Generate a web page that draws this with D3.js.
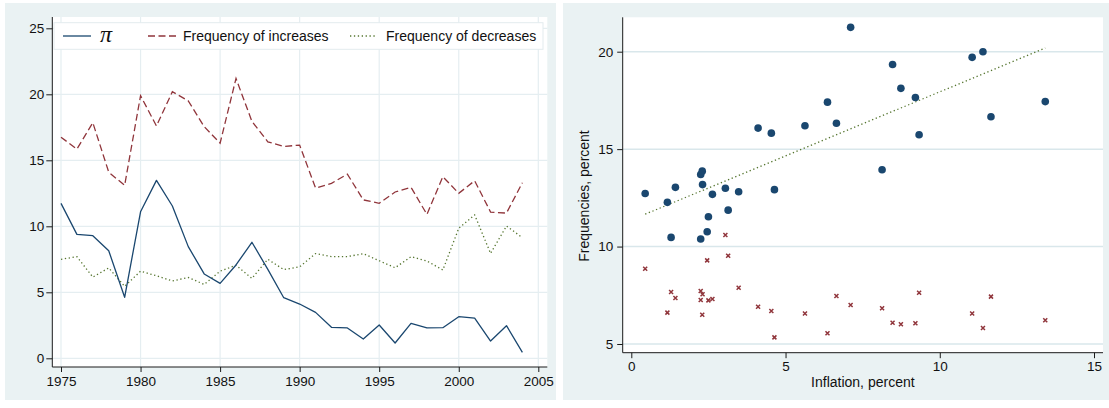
<!DOCTYPE html>
<html>
<head>
<meta charset="utf-8">
<script src="https://cdn.jsdelivr.net/npm/d3@7"></script>
<style>
  body { margin: 0; background: #ffffff; }
  svg { display: block; }
  text { font-family: "Liberation Sans", Arial, Helvetica, sans-serif; }
</style>
</head>
<body>
<svg id="chart" width="1109" height="408"></svg>
<script>
// ---- Annual series (left panel) ----
const years = [1975, 1976, 1977, 1978, 1979, 1980, 1981, 1982, 1983, 1984,
               1985, 1986, 1987, 1988, 1989, 1990, 1991, 1992, 1993, 1994,
               1995, 1996, 1997, 1998, 1999, 2000, 2001, 2002, 2003, 2004];
const inflationPi = [11.74, 9.39, 9.29, 8.15, 4.62, 11.1, 13.48, 11.54, 8.46, 6.39,
                     5.68, 7.07, 8.79, 6.74, 4.59, 4.11, 3.48, 2.35, 2.3, 1.46,
                     2.52, 1.16, 2.65, 2.3, 2.32, 3.15, 3.05, 1.31, 2.47, 0.45];
const freqIncreases = [16.75, 15.85, 17.85, 14.1, 13.1, 19.9, 17.6, 20.2, 19.5, 17.55,
                       16.3, 21.2, 17.95, 16.4, 16.05, 16.15, 12.9, 13.25, 13.95, 12.0,
                       11.74, 12.6, 12.95, 10.9, 13.76, 12.5, 13.45, 11.08, 11.0, 13.3];
const freqDecreases = [7.5, 7.7, 6.15, 6.85, 5.45, 6.6, 6.25, 5.86, 6.12, 5.6,
                       6.6, 7.05, 6.05, 7.5, 6.72, 6.93, 7.93, 7.7, 7.7, 7.93,
                       7.39, 6.86, 7.7, 7.37, 6.69, 9.85, 10.86, 7.95, 10.02, 9.14];
const yearTicks = [1975, 1980, 1985, 1990, 1995, 2000, 2005];
const leftValueTicks = [0, 5, 10, 15, 20, 25];

// ---- Scatter (right panel) ----
const scatterInflation = [11.66, 9.33, 9.21, 8.13, 4.64, 11.05, 13.42, 11.40, 8.47, 6.36,
                          5.63, 7.11, 8.74, 6.65, 4.54, 4.11, 3.48, 2.31, 2.25, 1.43,
                          2.5, 1.17, 2.63, 2.25, 2.30, 3.14, 3.05, 1.29, 2.46, 0.45];
const scatterIncreases = [16.66, 15.74, 17.65, 13.94, 12.92, 19.71, 17.44, 20.0, 19.34, 17.41,
                          16.2, 21.25, 18.12, 16.33, 15.82, 16.08, 12.81, 13.18, 13.7, 13.04,
                          11.53, 12.27, 12.68, 10.39, 13.87, 11.87, 12.99, 10.47, 10.76, 12.72];
const scatterDecreases = [7.43, 7.63, 6.06, 6.83, 5.34, 6.57, 6.22, 5.82, 6.09, 5.55,
                          6.57, 7.0, 6.01, 7.46, 6.69, 6.91, 7.89, 7.55, 7.72, 7.36,
                          7.24, 6.61, 7.31, 7.26, 6.5, 9.53, 10.59, 7.67, 9.29, 8.86];
const fitInflation = [0.45, 13.42];
const fitFrequency = [11.66, 20.19];
const inflationTicks = [0, 5, 10, 15];
const rightValueTicks = [5, 10, 15, 20];

// ---- Colours ----
const outerFill = "#eaf2f3";
const navy = "#1a476f";
const maroon = "#90353b";
const green = "#55752f";
const axisColor = "#1a1a1a";

const svg = d3.select("#chart");

function styleAxis(g) {
  g.select(".domain").remove();
  g.selectAll(".tick line").attr("stroke", axisColor).attr("stroke-width", 1);
  g.selectAll(".tick text").attr("fill", "#111").style("font-size", "13.5px");
}

// ================= Left panel: time series =================
const L = { x0: 52.3, x1: 547.3, y0: 17, y1: 367 };
svg.append("rect").attr("x", 5).attr("y", 3).attr("width", 551).attr("height", 397).attr("fill", outerFill);
svg.append("rect").attr("x", L.x0).attr("y", L.y0).attr("width", L.x1 - L.x0).attr("height", L.y1 - L.y0).attr("fill", "#fff");

const xL = d3.scaleLinear().domain([1975, 2005]).range([61, 538.3]);
const yL = d3.scaleLinear().domain([0, 25]).range([358.3, 28.3]);

const gridL = svg.append("g").attr("stroke", "#e5eef1").attr("stroke-width", 1.2);
gridL.selectAll("line.v").data(yearTicks).join("line")
  .attr("x1", d => xL(d)).attr("x2", d => xL(d)).attr("y1", L.y0).attr("y2", L.y1);
gridL.selectAll("line.h").data(leftValueTicks).join("line")
  .attr("x1", L.x0).attr("x2", L.x1).attr("y1", d => yL(d)).attr("y2", d => yL(d));

const lineGen = (vals) => d3.line().x((d, i) => xL(years[i])).y(d => yL(d))(vals);

svg.append("path").attr("d", lineGen(freqDecreases)).attr("fill", "none")
  .attr("stroke", green).attr("stroke-width", 1.3).attr("stroke-dasharray", "1.3,2.6");
svg.append("path").attr("d", lineGen(freqIncreases)).attr("fill", "none")
  .attr("stroke", maroon).attr("stroke-width", 1.3).attr("stroke-dasharray", "7,3.5");
svg.append("path").attr("d", lineGen(inflationPi)).attr("fill", "none")
  .attr("stroke", navy).attr("stroke-width", 1.3).attr("stroke-linejoin", "round");

svg.append("g").attr("transform", `translate(${L.x0},0)`)
  .call(d3.axisLeft(yL).tickValues(leftValueTicks).tickSize(6).tickPadding(2))
  .call(styleAxis);
svg.append("g").attr("transform", `translate(0,${L.y1})`)
  .call(d3.axisBottom(xL).tickValues(yearTicks).tickFormat(d3.format("d")).tickSize(5).tickPadding(4.5))
  .call(styleAxis);
svg.append("line").attr("x1", L.x0).attr("x2", L.x0).attr("y1", L.y0).attr("y2", L.y1).attr("stroke", axisColor);
svg.append("line").attr("x1", L.x0).attr("x2", L.x1).attr("y1", L.y1).attr("y2", L.y1).attr("stroke", axisColor);

// Legend
const legend = svg.append("g");
legend.append("rect").attr("x", 54).attr("y", 22.7).attr("width", 489).attr("height", 26.6)
  .attr("fill", "#fff").attr("stroke", "#e3ebee").attr("stroke-width", 1);
const legendItems = [
  { key: [63, 91], textX: 100, label: "π", color: navy, dash: null, serif: true },
  { key: [148, 177], textX: 183, label: "Frequency of increases", color: maroon, dash: "7,3.5" },
  { key: [350, 377], textX: 386, label: "Frequency of decreases", color: green, dash: "1.3,2.6" }
];
legendItems.forEach(it => {
  legend.append("line").attr("x1", it.key[0]).attr("x2", it.key[1]).attr("y1", 36).attr("y2", 36)
    .attr("stroke", it.color).attr("stroke-width", 1.3).attr("stroke-dasharray", it.dash);
  const t = legend.append("text").attr("x", it.textX).attr("y", it.serif ? 41.5 : 41)
    .attr("fill", "#111").text(it.label);
  if (it.serif) {
    t.style("font-family", "'Liberation Serif', 'Times New Roman', serif")
     .style("font-style", "italic").style("font-size", "24px");
  } else {
    t.style("font-size", "14px");
  }
});

// ================= Right panel: scatter =================
const R = { x0: 622.7, x1: 1103, y0: 17.3, y1: 352.7 };
svg.append("rect").attr("x", 563).attr("y", 3).attr("width", 546).attr("height", 397).attr("fill", outerFill);
svg.append("rect").attr("x", R.x0).attr("y", R.y0).attr("width", R.x1 - R.x0).attr("height", R.y1 - R.y0).attr("fill", "#fff");

const xR = d3.scaleLinear().domain([0, 15]).range([631.3, 1094]);
const yR = d3.scaleLinear().domain([5, 20]).range([344, 51.7]);

svg.append("g").attr("stroke", "#d9e7eb").attr("stroke-width", 1.5)
  .selectAll("line").data(rightValueTicks).join("line")
  .attr("x1", R.x0).attr("x2", R.x1).attr("y1", d => yR(d)).attr("y2", d => yR(d));

// fitted line of increases on inflation
svg.append("path")
  .attr("d", d3.line().x(d => xR(d[0])).y(d => yR(d[1]))(d3.zip(fitInflation, fitFrequency)))
  .attr("fill", "none").attr("stroke", green).attr("stroke-width", 1.3).attr("stroke-dasharray", "1.3,2.6");

// decreases: small crosses
const xs = 2;
svg.append("g").attr("stroke", maroon).attr("stroke-width", 1.5)
  .selectAll("path").data(d3.zip(scatterInflation, scatterDecreases)).join("path")
  .attr("d", d => {
    const cx = xR(d[0]), cy = yR(d[1]);
    return `M${cx - xs},${cy - xs}L${cx + xs},${cy + xs}M${cx - xs},${cy + xs}L${cx + xs},${cy - xs}`;
  });

// increases: filled dots
svg.append("g").attr("fill", navy)
  .selectAll("circle").data(d3.zip(scatterInflation, scatterIncreases)).join("circle")
  .attr("cx", d => xR(d[0])).attr("cy", d => yR(d[1])).attr("r", 3.8);

svg.append("g").attr("transform", `translate(${R.x0},0)`)
  .call(d3.axisLeft(yR).tickValues(rightValueTicks).tickSize(5.5).tickPadding(4))
  .call(styleAxis);
svg.append("g").attr("transform", `translate(0,${R.y1})`)
  .call(d3.axisBottom(xR).tickValues(inflationTicks).tickSize(5.5).tickPadding(3))
  .call(styleAxis);
svg.append("line").attr("x1", R.x0).attr("x2", R.x0).attr("y1", R.y0).attr("y2", R.y1).attr("stroke", axisColor);
svg.append("line").attr("x1", R.x0).attr("x2", R.x1).attr("y1", R.y1).attr("y2", R.y1).attr("stroke", axisColor);

svg.append("text").attr("x", (R.x0 + R.x1) / 2).attr("y", 387)
  .attr("text-anchor", "middle").attr("fill", "#111").style("font-size", "14px")
  .text("Inflation, percent");
svg.append("text").attr("transform", `translate(589,196) rotate(-90)`)
  .attr("text-anchor", "middle").attr("fill", "#111").style("font-size", "14px")
  .text("Frequencies, percent");
</script>
</body>
</html>
